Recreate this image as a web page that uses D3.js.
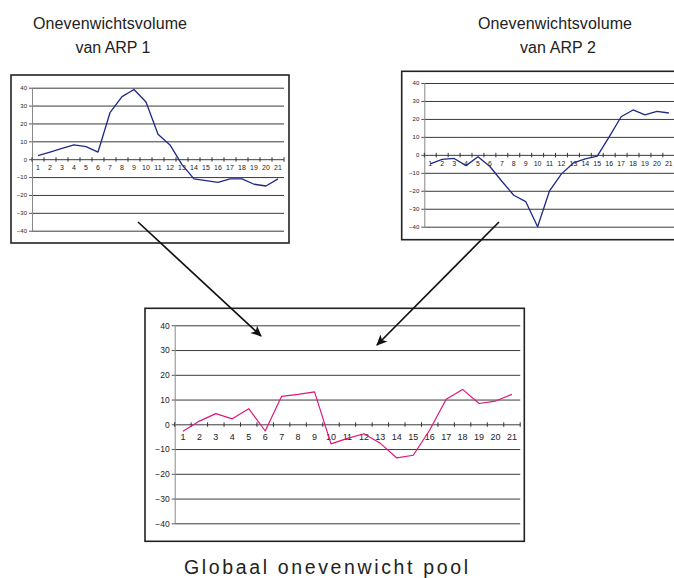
<!DOCTYPE html>
<html>
<head>
<meta charset="utf-8">
<script src="https://cdn.jsdelivr.net/npm/d3@7"></script>
<style>
  body { margin: 0; background: #fff; }
  svg { display: block; }
</style>
</head>
<body>
<script>
// data
const categories = [1, 2, 3, 4, 5, 6, 7, 8, 9, 10, 11, 12, 13, 14, 15, 16, 17, 18, 19, 20, 21]
const yTicks = [-40, -30, -20, -10, 0, 10, 20, 30, 40]
const arp1 = [2, 4, 6, 8, 7, 4, 26, 35, 39, 32, 14, 8, -3, -11, -12, -13, -11, -11, -14, -15, -11]
const arp2 = [-5, -2.5, -2, -6, -1, -6.5, -14.7, -22.5, -26, -40, -20, -10.6, -4.5, -2.2, -0.7, 10, 21.2, 25, 22.3, 24.2, 23.3]
const pool = [-2.8, 1.3, 4.3, 2.2, 6.3, -2.7, 11.3, 12.1, 13.1, -7.9, -5.7, -3.8, -7.7, -13.6, -12.5, -2.3, 10.1, 14.1, 8.4, 9.4, 12.1]

const svg = d3.select('body').append('svg')
  .attr('width', 674)
  .attr('height', 578)

svg.append('defs').append('marker')
  .attr('id', 'head')
  .attr('viewBox', '0 0 10 10')
  .attr('refX', 9).attr('refY', 5)
  .attr('markerWidth', 11).attr('markerHeight', 11)
  .attr('markerUnits', 'userSpaceOnUse')
  .attr('orient', 'auto')
  .append('path')
  .attr('d', 'M0,0.5 L10,5 L0,9.5 L2.5,5 Z')
  .attr('fill', '#111')

const charts = [
  { values: arp1, color: '#1d2a86', lw: 1.3, box: [11, 75, 278, 168], plot: [32, 284, 87.7, 230.7], yfs: 6, xfs: 7, xdy: 9.5 },
  { values: arp2, color: '#1d2a86', lw: 1.3, box: [401.7, 71.3, 300, 168.4], plot: [424.3, 674.8, 83, 226.7], yfs: 6, xfs: 7, xdy: 10 },
  { values: pool, color: '#e0167a', lw: 1.2, box: [145, 308.3, 379.3, 233], plot: [174.7, 520.2, 325.3, 523.3], yfs: 8.5, xfs: 9, xdy: 14 }
]

const draw = c => {
  const g = svg.append('g')
  const [x0, x1, yT, yB] = c.plot

  g.append('rect')
    .attr('x', c.box[0]).attr('y', c.box[1])
    .attr('width', c.box[2]).attr('height', c.box[3])
    .attr('fill', '#fff').attr('stroke', '#222').attr('stroke-width', 1.6)

  const x = d3.scaleBand().domain(categories).range([x0, x1])
  const y = d3.scaleLinear().domain([-40, 40]).range([yB, yT])

  // grid
  g.append('g')
    .attr('transform', 'translate(' + x0 + ',0)')
    .call(d3.axisLeft(y).tickValues(yTicks).tickSize(-(x1 - x0)).tickFormat(''))
    .call(a => a.select('.domain').remove())
    .call(a => a.selectAll('line').attr('stroke', '#3a3a3a'))

  // y axis with labels
  g.append('g')
    .attr('transform', 'translate(' + x0 + ',0)')
    .call(d3.axisLeft(y).tickValues(yTicks).tickSizeInner(3).tickSizeOuter(0).tickPadding(2))
    .call(a => a.select('.domain').attr('stroke', '#888'))
    .call(a => a.selectAll('line').attr('stroke', '#555'))
    .call(a => a.selectAll('text')
      .attr('font-family', 'Liberation Sans, Arial, sans-serif')
      .attr('font-size', c.yfs).attr('fill', '#222'))

  // x axis on the zero line
  const ax = g.append('g')
    .attr('transform', 'translate(0,' + y(0) + ')')
    .call(d3.axisBottom(x).tickSize(0).tickPadding(c.xdy - c.xfs / 2))
  ax.select('.domain').remove()
  ax.selectAll('text')
    .attr('font-family', 'Liberation Sans, Arial, sans-serif')
    .attr('font-size', c.xfs).attr('fill', '#222')
  ax.selectAll('.bound')
    .data(categories.concat(['end']))
    .enter().append('line')
    .attr('x1', d => d === 'end' ? x1 : x(d))
    .attr('x2', d => d === 'end' ? x1 : x(d))
    .attr('y1', -2).attr('y2', 2.5)
    .attr('stroke', '#333')

  g.append('path')
    .datum(c.values)
    .attr('fill', 'none')
    .attr('stroke', c.color)
    .attr('stroke-width', c.lw)
    .attr('stroke-linejoin', 'round')
    .attr('d', d3.line()
      .x((d, i) => x(categories[i]) + x.bandwidth() / 2)
      .y(d => y(d)))
}

charts.forEach(draw)

// arrows from the small charts to the pool chart
const arrows = [
  [[138, 222], [261, 336]],
  [[499, 222], [377, 345]]
]
svg.selectAll('.arrow')
  .data(arrows)
  .enter().append('line')
  .attr('x1', d => d[0][0]).attr('y1', d => d[0][1])
  .attr('x2', d => d[1][0]).attr('y2', d => d[1][1])
  .attr('stroke', '#111')
  .attr('stroke-width', 1.7)
  .attr('marker-end', 'url(#head)')

// titles
const titles = [
  { x: 110, y: 29, t: 'Onevenwichtsvolume', fs: 16, w: 154 },
  { x: 113, y: 53, t: 'van ARP 1', fs: 16, w: 75 },
  { x: 555, y: 29, t: 'Onevenwichtsvolume', fs: 16, w: 154 },
  { x: 558, y: 53, t: 'van ARP 2', fs: 16, w: 76 },
  { x: 326, y: 574, t: 'Globaal onevenwicht pool', fs: 19.5, w: 284 }
]
svg.selectAll('.title')
  .data(titles)
  .enter().append('text')
  .attr('x', d => d.x).attr('y', d => d.y)
  .attr('text-anchor', 'middle')
  .attr('font-family', 'Liberation Sans, Arial, sans-serif')
  .attr('font-size', d => d.fs)
  .attr('textLength', d => d.w)
  .attr('lengthAdjust', 'spacing')
  .attr('fill', '#222')
  .text(d => d.t)
</script>
</body>
</html>
